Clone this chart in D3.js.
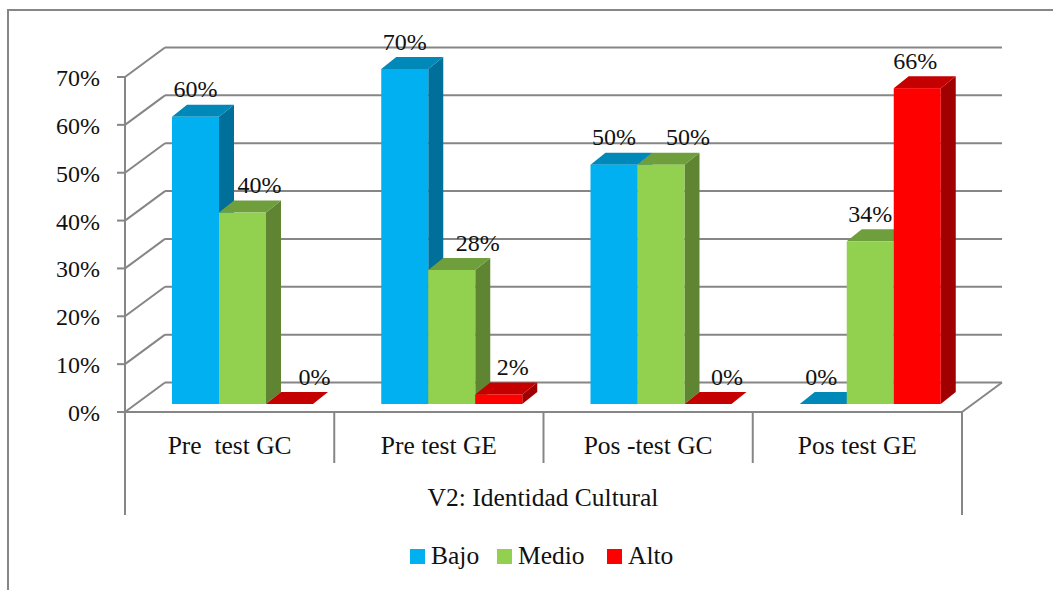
<!DOCTYPE html>
<html>
<head>
<meta charset="utf-8">
<script src="https://cdn.jsdelivr.net/npm/d3@7"></script>
<style>
  html, body { margin: 0; padding: 0; background: #fff; }
  svg { display: block; }
  text { font-family: "Liberation Serif", serif; font-size: 24px; fill: #111; white-space: pre; }
  text.ev-word { font-size: 25.5px; }
  .ev-axis { stroke: #868686; stroke-width: 2; fill: none; }
</style>
</head>
<body>
<svg id="chart" width="1053" height="590"></svg>
<script>
"use strict";

const categories = ["Pre  test GC", "Pre test GE", "Pos -test GC", "Pos test GE"];
const seriesNames = ["Bajo", "Medio", "Alto"];
const bajoValues = [60, 70, 50, 0];
const medioValues = [40, 28, 50, 34];
const altoValues = [0, 2, 0, 66];
const yTicks = [0, 10, 20, 30, 40, 50, 60, 70];
const groupTitle = "V2: Identidad Cultural";

const seriesValues = [bajoValues, medioValues, altoValues];
const faceColors = ["#00b0f0", "#92d050", "#ff0000"];
const topColors = ["#0088b8", "#6f9e3c", "#c40000"];
const sideColors = ["#006f9a", "#5f8533", "#a00000"];

// Data labels were moved by hand in the original, one x nudge per bar
const labelNudges = [[0, 0, 0, -2], [17, 26, 27, 0], [25, 14, 19, -2]];

const svg = d3.select("#chart");

// Plot geometry
const plotLeft = 125, plotRight = 962, plotBottom = 412, plotTop = 77;
const wallDx = 40, wallDy = -29.5;
const barDx = 15, barDy = -12;
const barLift = -8;
const barWidth = 47;

const xScale = d3.scaleBand().domain(categories).range([plotLeft, plotRight]);
const yScale = d3.scaleLinear().domain([0, 70]).range([plotBottom, plotTop]);
const seriesScale = d3.scaleLinear().domain([0, 1]).range([47, 47 + barWidth]);

const axes = svg.append("g");

function line(x1, y1, x2, y2) {
  axes.append("line")
      .attr("class", "ev-axis")
      .attr("x1", x1).attr("y1", y1)
      .attr("x2", x2).attr("y2", y2);
}

// Chart frame, only top and left edges are visible
line(8, 10, 1053, 10);
line(8, 9, 8, 590);

// Walls and gridlines
yTicks.forEach(t => {
  const y = yScale(t);
  line(117, y, plotLeft, y);
  line(plotLeft, y, plotLeft + wallDx, y + wallDy);
  line(plotLeft + wallDx, y + wallDy, plotRight + wallDx, y + wallDy);

  svg.append("text")
     .attr("x", 100)
     .attr("y", y + 9)
     .attr("text-anchor", "end")
     .text(`${t}%`);
});

line(plotLeft, plotTop, plotLeft, 515);
line(plotLeft, plotBottom, plotRight, plotBottom);
line(plotRight, plotBottom, plotRight + wallDx, plotBottom + wallDy);
line(plotRight, plotBottom, plotRight, 515);
categories.slice(1).forEach(c => line(xScale(c), plotBottom, xScale(c), 463));

// Bars
const barY = v => yScale(v) + barLift;
const barX = (c, i) => xScale(c) + seriesScale(i);

categories.forEach((c, ci) => {
  seriesNames.forEach((name, si) => {
    const v = seriesValues[si][ci];
    const x = barX(c, si);
    const y = barY(v);
    const y0 = barY(0);
    const g = svg.append("g");

    g.append("path")
     .attr("fill", sideColors[si])
     .attr("d", `M${x + barWidth},${y}l${barDx},${barDy}V${y0 + barDy}l${-barDx},${-barDy}Z`);
    g.append("path")
     .attr("fill", topColors[si])
     .attr("d", `M${x},${y}l${barDx},${barDy}h${barWidth}l${-barDx},${-barDy}Z`);
    g.append("rect")
     .attr("fill", faceColors[si])
     .attr("x", x).attr("y", y)
     .attr("width", barWidth)
     .attr("height", y0 - y);
  });
});

// Data labels go on top of every bar
categories.forEach((c, ci) => {
  seriesNames.forEach((name, si) => {
    const v = seriesValues[si][ci];
    svg.append("text")
       .attr("x", barX(c, si) + barWidth / 2 + labelNudges[si][ci])
       .attr("y", barY(v) - 19.5)
       .attr("text-anchor", "middle")
       .text(`${v}%`);
  });
});

// Category labels
categories.forEach(c => {
  svg.append("text")
     .attr("class", "ev-word")
     .attr("x", xScale(c) + xScale.bandwidth() / 2)
     .attr("y", 454)
     .attr("text-anchor", "middle")
     .text(c);
});

svg.append("text")
   .attr("class", "ev-word")
   .attr("x", 543)
   .attr("y", 506)
   .attr("text-anchor", "middle")
   .text(groupTitle);

// Legend
const legendX = [410, 497, 607];
seriesNames.forEach((name, i) => {
  svg.append("rect")
     .attr("x", legendX[i]).attr("y", 549)
     .attr("width", 15).attr("height", 15)
     .attr("fill", faceColors[i]);
  svg.append("text")
     .attr("class", "ev-word")
     .attr("x", legendX[i] + 21)
     .attr("y", 564)
     .text(name);
});
</script>
</body>
</html>
